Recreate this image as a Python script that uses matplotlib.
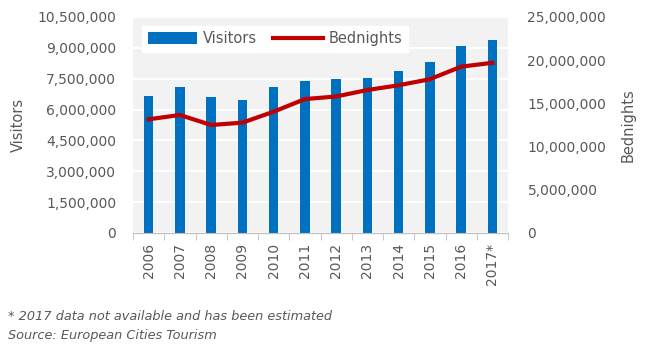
import numpy as np
import matplotlib.pyplot as plt
from matplotlib.ticker import FuncFormatter, FixedLocator

years = ["2006", "2007", "2008", "2009", "2010", "2011",
         "2012", "2013", "2014", "2015", "2016", "2017*"]
visitors = [6670000, 7110000, 6610000, 6480000, 7110000, 7390000,
            7470000, 7520000, 7890000, 8310000, 9070000, 9370000]
bednights = [13160000, 13660000, 12500000, 12770000, 14040000, 15500000,
             15800000, 16550000, 17100000, 17800000, 19250000, 19700000]

text_col = "#595959"
plt.rcParams['font.family'] = ['DejaVu Sans']

fig = plt.figure(figsize=(6.5, 3.5), dpi=100)
ax = fig.add_axes([133 / 650, 1 - 233 / 350, (508 - 133) / 650, (233 - 17) / 350])
ax2 = ax.twinx()

x = np.arange(len(years))
ax.set_facecolor("#f2f2f2")
ax.bar(x, visitors, width=0.3, color="#0070C0", label="Visitors", zorder=3)
ax2.plot(x, bednights, color="#C00000", lw=3, label="Bednights", zorder=4)

ax.set_xlim(-0.5, len(years) - 0.5)
ax.set_ylim(0, 10500000)
ax.set_yticks(np.arange(0, 10500001, 1500000))
ax2.set_ylim(0, 25000000)
ax2.set_yticks(np.arange(0, 25000001, 5000000))
fmt = FuncFormatter(lambda v, p: f"{int(v):,}")
ax.yaxis.set_major_formatter(fmt)
ax2.yaxis.set_major_formatter(fmt)

ax.yaxis.grid(True, color="white", lw=1.5, zorder=0)
ax.set_axisbelow(True)

ax.set_xticks(x)
ax.set_xticklabels(years, rotation=90)
ax.xaxis.set_minor_locator(FixedLocator(np.arange(-0.5, len(years), 1)))
ax.tick_params(axis="x", which="major", length=0, pad=7, colors=text_col, labelsize=10)
ax.tick_params(axis="x", which="minor", length=5, color="#bfbfbf")
ax.tick_params(axis="y", length=0, pad=12, colors=text_col, labelsize=10)
ax2.tick_params(axis="y", length=0, pad=14, colors=text_col, labelsize=10)

for a in (ax, ax2):
    for s in ("top", "left", "right"):
        a.spines[s].set_visible(False)
    a.spines["bottom"].set_color("#bfbfbf")

ax.set_ylabel("Visitors", color=text_col, fontsize=10.5, labelpad=8)
ax2.set_ylabel("Bednights", color=text_col, fontsize=10.5, labelpad=10)

h1, l1 = ax.get_legend_handles_labels()
h2, l2 = ax2.get_legend_handles_labels()
leg = ax2.legend(h1 + h2, l1 + l2, loc="upper left", bbox_to_anchor=(0.024, 0.96),
                 borderaxespad=0, ncol=2, frameon=True, fancybox=False, framealpha=1,
                 edgecolor="white", fontsize=10.5, handlelength=3.4, handleheight=0.9,
                 handletextpad=0.4, columnspacing=1.1, borderpad=0.4)
for t in leg.get_texts():
    t.set_color(text_col)

fig.text(8 / 650, 1 - 316 / 350, "* 2017 data not available and has been estimated",
         style="italic", color=text_col, fontsize=9.3, va="center")
fig.text(8 / 650, 1 - 335 / 350, "Source: European Cities Tourism",
         style="italic", color=text_col, fontsize=9.3, va="center")

fig.savefig("out.png", dpi=100)
